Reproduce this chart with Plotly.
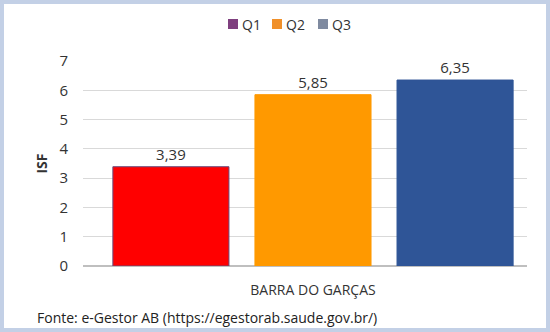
import plotly.graph_objects as go

categories = ["BARRA DO GARÇAS"]
series_names = ["Q1", "Q2", "Q3"]
q1_values = [3.39]
q2_values = [5.85]
q3_values = [6.35]
bar_colors = ["#ff0000", "#ff9900", "#2f5597"]
legend_colors = ["#7f3f7f", "#f0902a", "#7f8aa0"]
y_ticks = [0, 1, 2, 3, 4, 5, 6, 7]

W, H = 550, 332
L, R, T, B = 83, 23, 61, 66
pw, ph = W - L - R, H - T - B

def px(x):
    return (x - L) / pw

def py(y):
    return (H - B - y) / ph

def fmt(v):
    return f"{v:.2f}".replace(".", ",")

fig = go.Figure()
for name, vals, col in zip(series_names, [q1_values, q2_values, q3_values], bar_colors):
    fig.add_trace(go.Bar(
        x=categories, y=vals, name=name, showlegend=False,
        marker=dict(color=col, line=dict(color="#6a4a7a" if name == "Q1" else col, width=1)),
        text=[fmt(v) for v in vals], textposition="outside",
        textfont=dict(size=15, color="#333333"), cliponaxis=False,
    ))

# manual legend (squares + text), matching the tight Excel-style legend
shapes = [dict(type="rect", xref="paper", yref="paper",
               x0=px(2), x1=px(548), y0=py(330), y1=py(2),
               line=dict(color="#c3d0e6", width=4), fillcolor="rgba(0,0,0,0)")]
annotations = []
leg_x = [228, 272, 318]
for name, col, lx in zip(series_names, legend_colors, leg_x):
    shapes.append(dict(type="rect", xref="paper", yref="paper",
                       x0=px(lx), x1=px(lx + 10), y0=py(29), y1=py(19),
                       line=dict(width=0), fillcolor=col))
    annotations.append(dict(text=name, xref="paper", yref="paper",
                            x=px(lx + 12), y=py(24), xanchor="left", yanchor="middle",
                            showarrow=False, font=dict(size=14, color="#333333")))

annotations.append(dict(text="Fonte: e-Gestor AB (https://egestorab.saude.gov.br/)",
                        xref="paper", yref="paper", x=px(35), y=py(317), xanchor="left", yanchor="middle",
                        showarrow=False, font=dict(size=14, color="#222222")))

fig.update_layout(
    width=W, height=H,
    margin=dict(l=L, r=R, t=T, b=B),
    paper_bgcolor="white", plot_bgcolor="white",
    font=dict(family="Open Sans, Liberation Sans, sans-serif", color="#333333"),
    barmode="group", bargap=0.04, bargroupgap=0.183,
    showlegend=False,
    xaxis=dict(range=[-0.518, 0.482], showgrid=False, showline=False, ticks="",
               tickfont=dict(size=14, color="#333333"), ticklabelstandoff=14),
    yaxis=dict(range=[0, 7], tickvals=y_ticks, showgrid=True, gridcolor="#d9d9d9", gridwidth=1,
               zeroline=True, zerolinecolor="#bfbfbf", zerolinewidth=1.5,
               tickfont=dict(size=15, color="#333333"), ticklabelstandoff=14,
               title=dict(text="<b>ISF</b>", font=dict(size=14, color="#333333"), standoff=8)),
    shapes=shapes,
    annotations=annotations,
)

fig.write_html("out.html")
